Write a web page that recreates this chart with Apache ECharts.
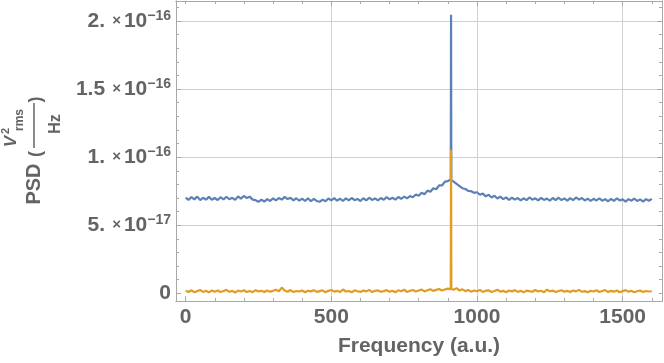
<!DOCTYPE html>
<html>
<head>
<meta charset="utf-8">
<script src="https://cdn.jsdelivr.net/npm/echarts@6/dist/echarts.min.js"></script>
<style>html,body{margin:0;padding:0;background:#fff;}#c{width:664px;height:363px;}</style>
</head>
<body>
<div id="c"></div>
<script>
// ---- data (PSD values in units of 1e-17 V_rms^2/Hz) ----
const freqGrid = Array.from({length: 161}, (_, i) => i * 10); // 0..1600 a.u.
const bluePSD = [
  7.02,6.86,7.07,6.90,7.10,6.84,7.02,6.88,7.08,6.87,
  7.00,6.85,7.06,6.89,7.09,6.91,7.01,6.86,7.12,6.95,
  7.15,7.00,7.10,6.88,6.84,6.72,6.88,6.74,6.92,6.78,
  6.97,6.82,7.00,6.88,7.08,6.92,7.01,6.83,6.98,6.80,
  6.96,6.78,6.98,6.76,6.94,6.78,6.72,6.88,6.76,6.96,
  6.82,6.99,6.80,6.95,6.78,6.97,6.82,7.00,6.84,6.93,
  6.78,6.98,6.83,7.02,6.86,6.97,6.82,7.00,6.87,7.06,
  6.90,7.02,6.88,7.07,6.94,7.10,6.98,7.14,7.06,7.26,
  7.16,7.38,7.28,7.54,7.46,7.72,7.64,7.92,7.92,8.20,
  8.24,8.38,8.20,8.04,7.88,7.72,7.66,7.52,7.50,7.38,
  7.42,7.24,7.32,7.12,7.24,7.04,7.17,6.96,7.10,6.92,
  7.04,6.86,7.02,6.88,7.00,6.82,6.98,6.84,7.04,6.88,
  6.98,6.82,7.01,6.86,6.96,6.80,7.00,6.85,7.02,6.84,
  6.97,6.81,6.99,6.84,7.04,6.88,7.00,6.82,6.95,6.78,
  6.94,6.82,6.97,6.80,6.92,6.76,6.94,6.78,6.98,6.82,
  6.90,6.74,6.92,6.80,6.96,6.78,6.90,6.74,6.92,6.80,
  6.94
];
const orangePSD = [
  0.18,0.10,0.22,0.08,0.16,0.24,0.10,0.19,0.07,0.21,
  0.12,0.20,0.09,0.17,0.25,0.11,0.18,0.06,0.20,0.13,
  0.22,0.10,0.17,0.08,0.23,0.14,0.19,0.09,0.21,0.12,
  0.18,0.26,0.15,0.42,0.20,0.11,0.24,0.09,0.17,0.13,
  0.21,0.08,0.19,0.14,0.23,0.10,0.16,0.22,0.07,0.18,
  0.24,0.12,0.19,0.09,0.28,0.13,0.17,0.08,0.22,0.15,
  0.10,0.20,0.14,0.25,0.09,0.18,0.21,0.11,0.16,0.23,
  0.12,0.19,0.08,0.22,0.15,0.26,0.10,0.18,0.24,0.13,
  0.20,0.27,0.14,0.22,0.30,0.18,0.25,0.32,0.21,0.28,
  0.34,0.30,0.26,0.38,0.20,0.29,0.16,0.24,0.12,0.21,
  0.15,0.25,0.10,0.19,0.22,0.09,0.17,0.26,0.12,0.18,
  0.08,0.21,0.14,0.23,0.10,0.18,0.07,0.20,0.16,0.11,
  0.24,0.13,0.19,0.08,0.27,0.15,0.20,0.10,0.17,0.22,
  0.12,0.18,0.09,0.21,0.14,0.25,0.11,0.16,0.07,0.19,
  0.13,0.22,0.10,0.17,0.24,0.09,0.18,0.12,0.20,0.08,
  0.16,0.23,0.11,0.19,0.07,0.15,0.21,0.10,0.17,0.13,
  0.15
];
// resonance peak samples
const peakFreqs = [911, 912];
const bluePeak = [20.46, 8.30];
const orangePeak = [10.54, 0.32];

// axis ticks
const xMajorTicks = [0, 500, 1000, 1500];
const xMinorTicks = Array.from({length: 17}, (_, i) => i * 100);
const yMajorTicks = [0, 5, 10, 15, 20];
const yMinorTicks = Array.from({length: 22}, (_, i) => i);
const yTickLabels = {
  0: '{a|0}',
  5: '{a|5.}{x|×}{a|10}{s|−17}',
  10: '{a|1.}{x|×}{a|10}{s|−16}',
  15: '{a|1.5}{x|×}{a|10}{s|−16}',
  20: '{a|2.}{x|×}{a|10}{s|−16}'
};
const xTitle = 'Frequency (a.u.)';

// ---- build ----
function merge(base, pf, pv) {
  const pts = freqGrid.map((f, i) => [f, base[i]]);
  pf.forEach((f, i) => pts.push([f, pv[i]]));
  pts.sort((a, b) => a[0] - b[0]);
  return pts;
}
const X_MIN = -33, X_MAX = 1635;
const Y_MIN = -0.566, Y_MAX = 21.47;
const TXT = '#646464';
const FRAME = '#a8a8a8';
const GRIDC = '#d0d0d0';
const FONT = 'Liberation Sans, Arial, sans-serif';

function xAx(pos, ticks, len, extra) {
  return Object.assign({
    type: 'value', position: pos, min: X_MIN, max: X_MAX,
    axisLine: {show: true, onZero: false, lineStyle: {color: FRAME, width: 1}},
    axisTick: {show: true, inside: true, length: len, customValues: ticks, lineStyle: {color: FRAME}},
    axisLabel: {show: false},
    splitLine: {show: false}
  }, extra || {});
}
function yAx(pos, ticks, len, extra) {
  return Object.assign({
    type: 'value', position: pos, min: Y_MIN, max: Y_MAX,
    axisLine: {show: true, onZero: false, lineStyle: {color: FRAME, width: 1}},
    axisTick: {show: true, inside: true, length: len, customValues: ticks, lineStyle: {color: FRAME}},
    axisLabel: {show: false},
    splitLine: {show: false}
  }, extra || {});
}

const chart = echarts.init(document.getElementById('c'), null, {renderer: 'canvas'});
chart.setOption({
  animation: false,
  backgroundColor: '#ffffff',
  grid: {left: 176, right: 2, top: 1, bottom: 62, containLabel: false},
  xAxis: [
    xAx('bottom', xMajorTicks, 5, {
      name: xTitle, nameLocation: 'middle', nameGap: 35,
      nameTextStyle: {color: TXT, fontSize: 21, fontWeight: 'bold', fontFamily: FONT},
      axisLabel: {show: true, customValues: xMajorTicks, margin: 6, color: TXT, fontSize: 21, fontWeight: 'bold', fontFamily: FONT,
        formatter: v => String(v)}
    }),
    xAx('bottom', xMinorTicks, 3),
    xAx('top', [500, 1000, 1500], 5, {splitLine: {show: true, lineStyle: {color: GRIDC, width: 1}}}),
    xAx('top', xMinorTicks, 3)
  ],
  yAxis: [
    yAx('left', yMajorTicks, 5, {
      axisLabel: {
        show: true, customValues: yMajorTicks, margin: 5,
        formatter: v => yTickLabels[Math.round(v)] || '',
        rich: {
          a: {color: TXT, fontSize: 21, fontWeight: 'bold', fontFamily: FONT, lineHeight: 24},
          x: {color: TXT, fontSize: 15, fontWeight: 'bold', fontFamily: FONT, lineHeight: 24, padding: [0, 3, 0, 7]},
          s: {color: TXT, fontSize: 14, fontWeight: 'bold', fontFamily: FONT, lineHeight: 14, verticalAlign: 'top'}
        }
      }
    }),
    yAx('left', yMinorTicks, 3),
    yAx('right', [5, 10, 15, 20], 5, {splitLine: {show: true, lineStyle: {color: GRIDC, width: 1}}}),
    yAx('right', yMinorTicks, 3)
  ],
  series: [
    {
      type: 'line', name: 'blue', xAxisIndex: 0, yAxisIndex: 0,
      data: merge(bluePSD, peakFreqs, bluePeak),
      showSymbol: false, symbol: 'none', sampling: 'none', z: 3,
      lineStyle: {color: '#5e81b5', width: 2.2}
    },
    {
      type: 'line', name: 'orange', xAxisIndex: 0, yAxisIndex: 0,
      data: merge(orangePSD, peakFreqs, orangePeak),
      showSymbol: false, symbol: 'none', sampling: 'none', z: 4,
      lineStyle: {color: '#e19c24', width: 2.2}
    }
  ],
  graphic: [{
    type: 'group', x: 35, y: 150, rotation: Math.PI / 2,
    children: [
      {type: 'text', x: -34, y: -0.5, style: {text: 'PSD', font: 'bold 20px ' + FONT, fill: TXT, align: 'center', verticalAlign: 'middle'}},
      {type: 'text', x: -4, y: 1, style: {text: '(', font: 'bold 18px ' + FONT, fill: TXT, align: 'center', verticalAlign: 'middle'}},
      {type: 'line', shape: {x1: 2, y1: -1, x2: 47, y2: -1}, style: {stroke: TXT, lineWidth: 1.5}},
      {type: 'text', x: 8.5, y: -24, style: {text: 'V', font: 'italic bold 17px ' + FONT, fill: TXT, align: 'center', verticalAlign: 'middle'}},
      {type: 'text', x: 19, y: -29, style: {text: '2', font: 'bold 11px ' + FONT, fill: TXT, align: 'center', verticalAlign: 'middle'}},
      {type: 'text', x: 30, y: -15, style: {text: 'rms', font: 'bold 12px ' + FONT, fill: TXT, align: 'center', verticalAlign: 'middle'}},
      {type: 'text', x: 26, y: 21, style: {text: 'Hz', font: 'bold 16px ' + FONT, fill: TXT, align: 'center', verticalAlign: 'middle'}},
      {type: 'text', x: 50.5, y: 1, style: {text: ')', font: 'bold 18px ' + FONT, fill: TXT, align: 'center', verticalAlign: 'middle'}}
    ]
  }]
});
</script>
</body>
</html>
